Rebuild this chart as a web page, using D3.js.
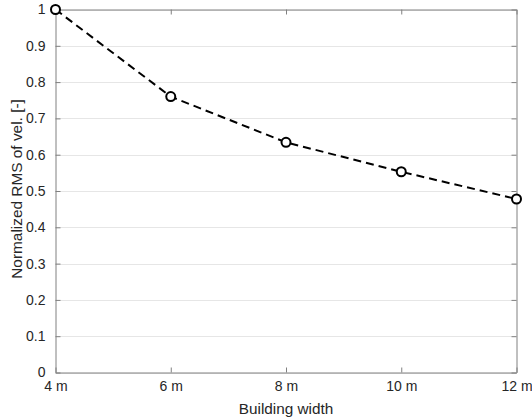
<!DOCTYPE html>
<html>
<head>
<meta charset="utf-8">
<script src="https://cdn.jsdelivr.net/npm/d3@7"></script>
<style>
  body { margin: 0; background: #fff; }
  svg { display: block; }
  text { font-family: "Liberation Sans", Arial, Helvetica, sans-serif; fill: #262626; }
</style>
</head>
<body>
<svg id="chart" width="532" height="420"></svg>
<script>
const widths = [4, 6, 8, 10, 12];
const rmsValues = [1.0, 0.760, 0.634, 0.553, 0.478];
const xTickValues = [4, 6, 8, 10, 12];
const xTickLabels = ["4 m", "6 m", "8 m", "10 m", "12 m"];
const yTickValues = [0, 0.1, 0.2, 0.3, 0.4, 0.5, 0.6, 0.7, 0.8, 0.9, 1];
const xLabel = "Building width";
const yLabel = "Normalized RMS of vel. [-]";

const svg = d3.select("#chart");
const L = 55.5, R = 516.5, T = 9.5, B = 372.5;

const x = d3.scaleLinear().domain([4, 12]).range([L, R]);
const y = d3.scaleLinear().domain([0, 1]).range([B, T]);

// grid
svg.append("g").selectAll("line").data(yTickValues).join("line")
  .attr("x1", L).attr("x2", R)
  .attr("y1", d => Math.round(y(d)) + 0.5).attr("y2", d => Math.round(y(d)) + 0.5)
  .attr("stroke", "#e6e6e6").attr("stroke-width", 1);

// axes
const axisColor = "#808080";
const fontSize = "14px";

const xAxis = d3.axisBottom(x).tickValues(xTickValues)
  .tickFormat((d, i) => xTickLabels[i]).tickSizeInner(-5).tickSizeOuter(0).tickPadding(9);
const gx = svg.append("g").attr("transform", `translate(0,${B})`).call(xAxis);
const xTop = d3.axisTop(x).tickValues(xTickValues).tickFormat("").tickSizeInner(-5).tickSizeOuter(0);
const gxt = svg.append("g").attr("transform", `translate(0,${T})`).call(xTop);

const yAxis = d3.axisLeft(y).tickValues(yTickValues)
  .tickFormat(d => d3.format("~g")(d)).tickSizeInner(-5).tickSizeOuter(0).tickPadding(10);
const gy = svg.append("g").attr("transform", `translate(${L},0)`).call(yAxis);
const yRight = d3.axisRight(y).tickValues(yTickValues).tickFormat("").tickSizeInner(-5).tickSizeOuter(0);
const gyr = svg.append("g").attr("transform", `translate(${R},0)`).call(yRight);

[gx, gxt, gy, gyr].forEach(g => {
  g.select(".domain").attr("stroke", axisColor).attr("stroke-width", 1);
  g.selectAll(".tick line").attr("stroke", axisColor);
  g.selectAll("text").attr("font-size", fontSize)
    .attr("font-family", "'Liberation Sans', Arial, sans-serif").attr("fill", "#262626");
});

// labels
svg.append("text").attr("x", (L + R) / 2).attr("y", 414)
  .attr("text-anchor", "middle").attr("font-size", "15.3px").text(xLabel);
svg.append("text")
  .attr("transform", `translate(21.5,189) rotate(-90)`)
  .attr("text-anchor", "middle").attr("font-size", "15.4px").text(yLabel);

// line
const line = d3.line().x((d, i) => x(widths[i])).y(d => y(d));
svg.append("path").datum(rmsValues)
  .attr("d", line).attr("fill", "none").attr("stroke", "#000")
  .attr("stroke-width", 2).attr("stroke-dasharray", "8,5");

svg.append("g").selectAll("circle").data(rmsValues).join("circle")
  .attr("cx", (d, i) => x(widths[i])).attr("cy", d => y(d)).attr("r", 4.5)
  .attr("fill", "#fff").attr("stroke", "#000").attr("stroke-width", 2);
</script>
</body>
</html>
